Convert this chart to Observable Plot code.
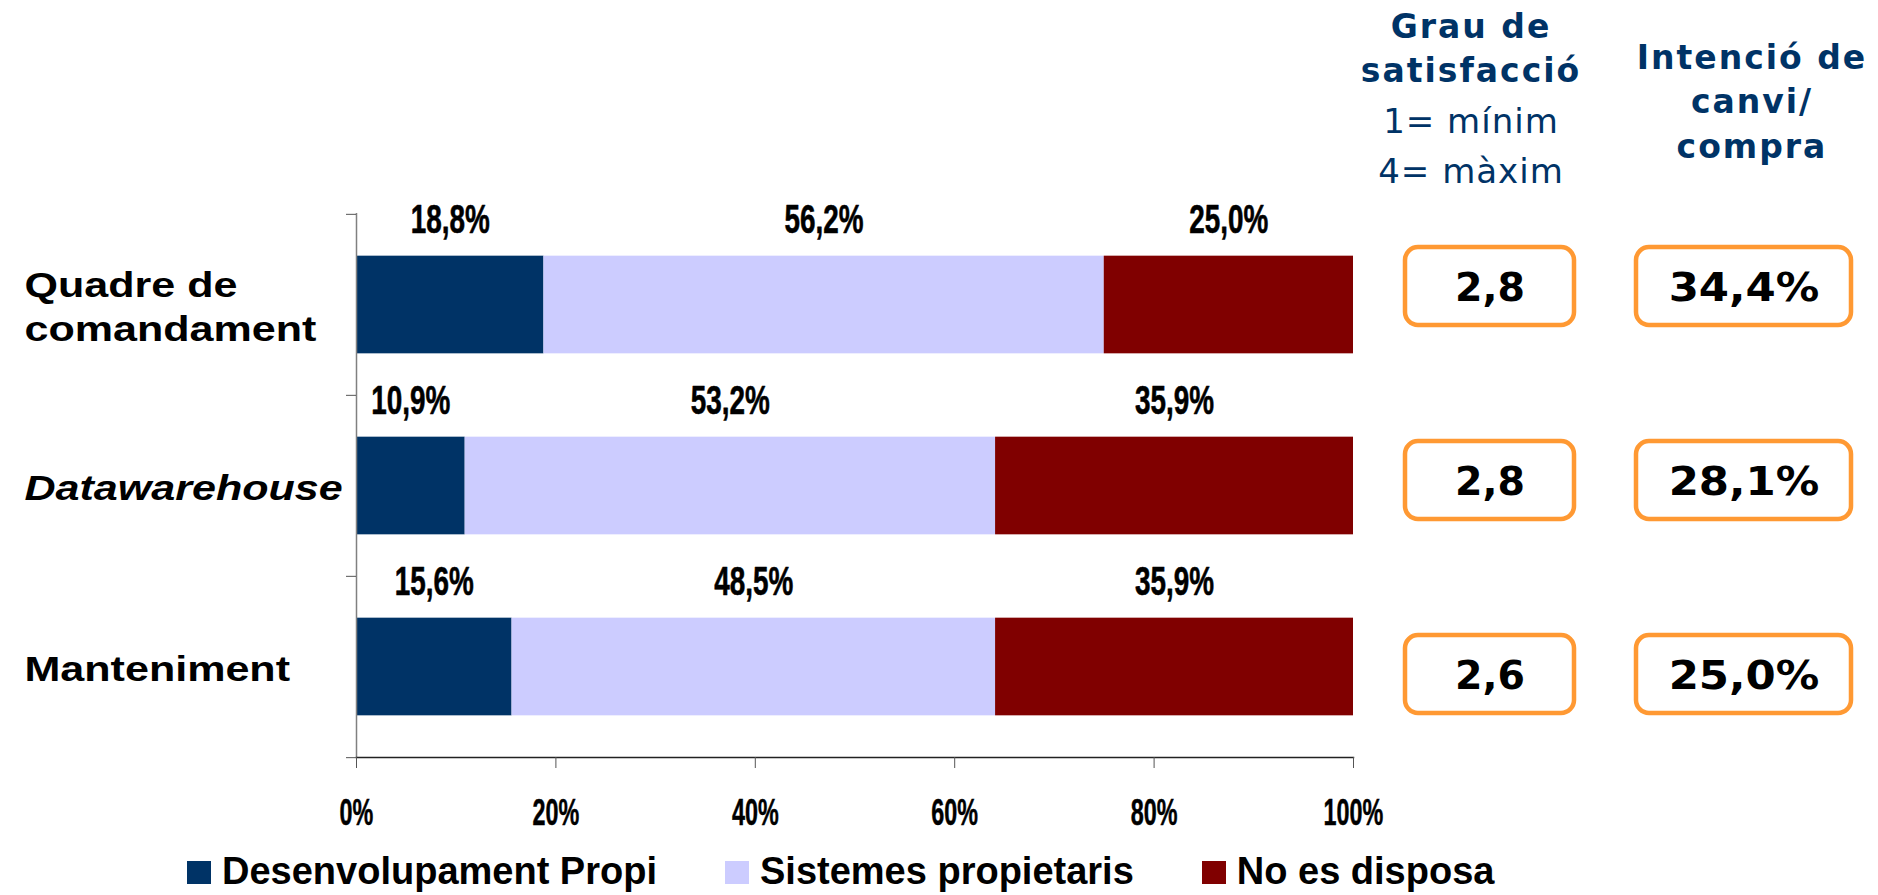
<!DOCTYPE html>
<html>
<head>
<meta charset="utf-8">
<script src="https://cdn.jsdelivr.net/npm/d3@7"></script>
<script src="https://cdn.jsdelivr.net/npm/@observablehq/plot@0.6"></script>
<style>
html, body { margin: 0; padding: 0; background: #fff; }
#page { position: relative; width: 1878px; height: 895px; overflow: hidden; }
.abs { position: absolute; }
.hdr { position: absolute; font-family: "DejaVu Sans", sans-serif; color: #003366; text-align: center; white-space: nowrap; }
.hdr .b { font-weight: bold; font-size: 33px; line-height: 44px; letter-spacing: 2px; }
.hdr .r { font-weight: normal; font-size: 34px; line-height: 50px; letter-spacing: 1px; margin-top: 3.5px; }
#legend { position: absolute; left: 187px; top: 850px; display: flex; gap: 68px;
  font-family: "Liberation Sans", Arial, sans-serif; font-weight: bold; font-size: 38px; line-height: 42px; white-space: nowrap; color: #000; }
#legend .sw { display: inline-block; width: 24px; height: 23px; margin-right: 11px; vertical-align: baseline; }
</style>
</head>
<body>
<div id="page"></div>
<script>
// ---------- data ----------
const categories = ["Quadre de comandament", "Datawarehouse", "Manteniment"];
const series = ["Desenvolupament Propi", "Sistemes propietaris", "No es disposa"];
const desenvolupamentPropi = [18.8, 10.9, 15.6];
const sistemesPropietaris = [56.2, 53.2, 48.5];
const noEsDisposa = [25.0, 35.9, 35.9];
const grauSatisfaccio = [2.8, 2.8, 2.6];
const intencioCanvi = [34.4, 28.1, 25.0];
const xTicks = [0, 20, 40, 60, 80, 100];
const colors = ["#003366", "#CCCCFF", "#800000"];
const header1Bold = ["Grau de", "satisfacció"];
const header1Regular = ["1= mínim", "4= màxim"];
const header2Bold = ["Intenció de", "canvi/", "compra"];

const seriesValues = [desenvolupamentPropi, sistemesPropietaris, noEsDisposa];
const rows = categories.flatMap((c, i) => series.map((s, j) => ({category: c, series: s, value: seriesValues[j][i]})));
const fmt1 = d => d3.format(".1f")(d).replace(".", ",");

const page = document.getElementById("page");

function place(node, left, top) {
  const wrap = document.createElement("div");
  wrap.className = "abs";
  wrap.style.left = left + "px";
  wrap.style.top = top + "px";
  wrap.appendChild(node);
  page.appendChild(wrap);
  return node;
}

// stretch/condense glyphs horizontally
function stretch(root, selector, k) {
  root.querySelectorAll(selector).forEach(t => {
    const parts = t.querySelectorAll("tspan");
    const targets = parts.length ? Array.from(parts) : [t];
    targets.forEach(el => {
      const L = el.getComputedTextLength();
      if (L > 0) {
        el.setAttribute("textLength", (L * k).toFixed(2));
        el.setAttribute("lengthAdjust", "spacingAndGlyphs");
      }
    });
  });
}

// ---------- main stacked bar chart ----------
const W = 1390, H = 840, mL = 356, mR = 37, mT = 213, mB = 83;
const step = (H - mT - mB) / categories.length;
const barH = 98;
const inset = (step - barH) / 2;
const labelFormat = d => d === "Quadre de comandament" ? "Quadre de\ncomandament" : d;

const main = Plot.plot({
  width: W, height: H,
  marginLeft: mL, marginRight: mR, marginTop: mT, marginBottom: mB,
  style: {fontFamily: "'Liberation Sans', Arial, sans-serif", background: "transparent", overflow: "visible", color: "#000"},
  x: {domain: [0, 100], label: null},
  y: {domain: categories, padding: 0, label: null},
  color: {domain: series, range: colors},
  marks: [
    Plot.barX(rows, {x: "value", y: "category", fill: "series", z: "series", order: series, insetTop: inset, insetBottom: inset}),
    Plot.text(rows, Plot.stackX({x: "value", y: "category", z: "series", order: series,
      text: d => fmt1(d.value) + "%", dy: -(barH / 2 + 36),
      fontSize: 41, fontWeight: "bold", fill: "#000", stroke: "#000", strokeWidth: 0.6})),
    Plot.ruleX([0], {stroke: "#808080", strokeWidth: 1.5}),
    Plot.frame({anchor: "bottom", stroke: "#222", strokeWidth: 1.5}),
    Plot.axisX({ticks: xTicks, tickFormat: d => d + "%", tickSize: 11, tickPadding: 31,
      fontSize: 36.5, fontWeight: "bold", stroke: "#555", label: null}),
    Plot.axisY({tickSize: 10, tickFormat: () => "", dy: -step / 2, stroke: "#555", label: null}),
    Plot.axisY({ticks: [categories[categories.length - 1]], tickSize: 10, tickFormat: () => "", dy: step / 2, stroke: "#555", label: null}),
    Plot.axisY({tickSize: 0, tickPadding: mL - 24, textAnchor: "start", tickFormat: labelFormat,
      fontSize: 35, fontWeight: "bold", lineHeight: 44 / 35, fill: "#000", label: null})
  ]
});
place(main, 0, 0);

// italic for Datawarehouse
main.querySelectorAll('g[aria-label="y-axis tick label"] text').forEach(t => {
  if (t.textContent === "Datawarehouse") t.setAttribute("font-style", "italic");
});
// heavier, condensed tick labels
main.querySelectorAll('g[aria-label="x-axis tick label"] text').forEach(t => {
  t.setAttribute("stroke", "#000");
  t.setAttribute("stroke-width", "0.5");
});
stretch(main, 'g[aria-label="y-axis tick label"] text', 1.23);
stretch(main, 'g[aria-label="x-axis tick label"] text', 0.64);
stretch(main, 'g[aria-label="text"] text', 0.68);

// ---------- right-hand columns ----------
function columnPlot(values, format, width) {
  const data = categories.map((c, i) => ({category: c, value: values[i]}));
  return Plot.plot({
    width, height: 800,
    marginLeft: 7, marginRight: 7, marginTop: 189, marginBottom: 29,
    x: {axis: null, domain: ["v"], padding: 0},
    y: {axis: null, domain: categories, padding: 0},
    style: {fontFamily: "'DejaVu Sans', sans-serif", background: "transparent", overflow: "visible"},
    marks: [
      Plot.cell(data, {x: () => "v", y: "category", fill: "none", stroke: "#FF9933", strokeWidth: 4.5, rx: 13, insetTop: 58, insetBottom: 58}),
      Plot.text(data, {x: () => "v", y: "category", text: d => format(d.value), dy: 2,
        fontSize: 39.5, fontWeight: "bold", fill: "#000"})
    ]
  });
}
const col1 = place(columnPlot(grauSatisfaccio, fmt1, 183), 1398, 0);
const col2 = place(columnPlot(intencioCanvi, d => fmt1(d) + "%", 229), 1629, 0);
stretch(col2, 'g[aria-label="text"] text', 1.1);

// ---------- headers ----------
function header(boldLines, regularLines, centerX, top, lh) {
  const h = document.createElement("div");
  h.className = "hdr";
  h.style.left = (centerX - 160) + "px";
  h.style.width = "320px";
  h.style.top = top + "px";
  const b = document.createElement("div");
  b.className = "b";
  if (lh) b.style.lineHeight = lh + "px";
  b.innerHTML = boldLines.join("<br>");
  h.appendChild(b);
  if (regularLines.length) {
    const r = document.createElement("div");
    r.className = "r";
    r.innerHTML = regularLines.join("<br>");
    h.appendChild(r);
  }
  page.appendChild(h);
}
header(header1Bold, header1Regular, 1471, 4.6);
header(header2Bold, [], 1752, 35.5, 44.5);

// ---------- legend ----------
const legend = document.createElement("div");
legend.id = "legend";
series.forEach((s, i) => {
  const item = document.createElement("span");
  const sw = document.createElement("span");
  sw.className = "sw";
  sw.style.background = colors[i];
  item.appendChild(sw);
  item.appendChild(document.createTextNode(s));
  legend.appendChild(item);
});
page.appendChild(legend);
</script>
</body>
</html>
